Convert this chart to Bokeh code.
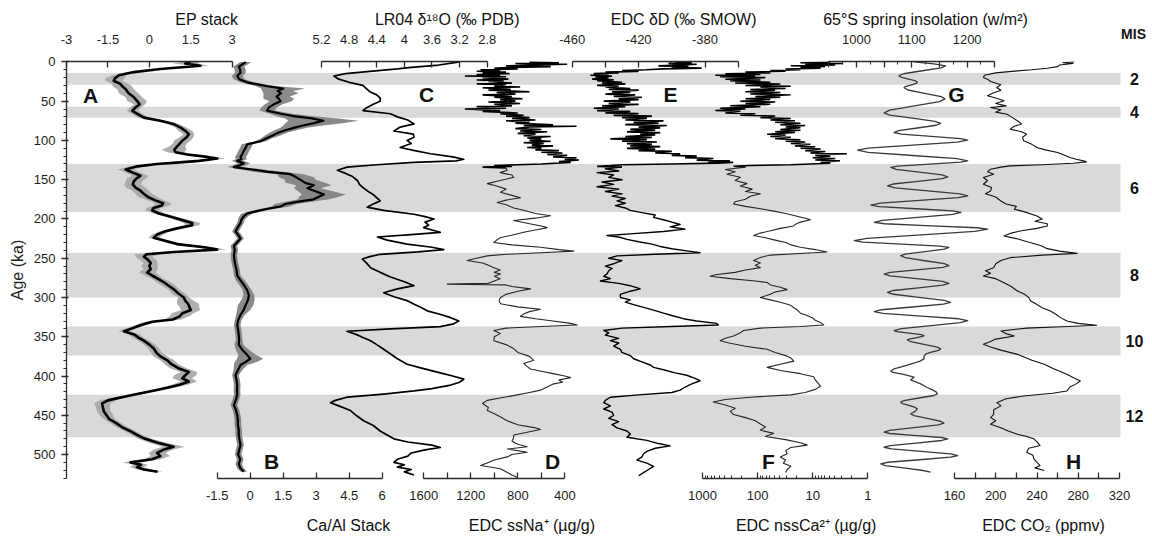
import numpy as np
from bokeh.plotting import figure
from bokeh.models import Range1d, LinearAxis, LogAxis, LogScale, FixedTicker, Label, ColumnDataSource
from bokeh.layouts import column
from bokeh.embed import file_html
from bokeh.resources import INLINE

# ---------------------------------------------------------------- data
mis_top = [14, 57, 130, 243, 337, 424]
mis_bottom = [29, 71, 191, 300, 374, 478]
mis_names = ["2", "4", "6", "8", "10", "12"]

age_ticks = [0, 50, 100, 150, 200, 250, 300, 350, 400, 450, 500]
age_minor = list(range(0, 531, 10))

ep_ticks = [-3, -1.5, 0, 1.5, 3]
ep_labels = ["-3", "-1.5", "0", "1.5", "3"]
caal_ticks = [-1.5, 0, 1.5, 3, 4.5, 6]
caal_labels = ["-1.5", "0", "1.5", "3", "4.5", "6"]
lr04_ticks = [5.2, 4.8, 4.4, 4.0, 3.6, 3.2, 2.8]
lr04_labels = ["5.2", "4.8", "4.4", "4", "3.6", "3.2", "2.8"]
ssna_ticks = [1600, 1400, 1200, 1000, 800, 600, 400]
ssna_labels = ["1600", "", "1200", "", "800", "", "400"]
dd_ticks = [-460, -440, -420, -400, -380, -360]
dd_labels = ["-460", "", "-420", "", "-380", ""]
ins_ticks = [950, 1000, 1050, 1100, 1150, 1200, 1250]
ins_labels = ["", "1000", "", "1100", "", "1200", ""]
ins_minor = list(range(950, 1251, 25))
nssca_ticks = [1000, 100, 10, 1]
nssca_labels = ["1000", "100", "10", "1"]
nssca_minor = [2, 3, 4, 5, 6, 7, 8, 9, 20, 30, 40, 50, 60, 70, 80, 90, 200, 300, 400, 500, 600, 700, 800, 900]
co2_ticks = [160, 180, 200, 220, 240, 260, 280, 300, 320]
co2_labels = ["160", "", "200", "", "240", "", "280", "", "320"]

top_titles = ["EP stack", "LR04 δ¹⁸O (‰ PDB)", "EDC δD (‰ SMOW)", "65°S spring insolation (w/m²)"]
bottom_titles = ["Ca/Al Stack", "EDC ssNa⁺ (µg/g)", "EDC nssCa²⁺ (µg/g)", "EDC CO₂ (ppmv)"]

# A: EP stack
ep_age = [0, 2, 5, 9, 13, 17, 21, 24, 28, 31, 35, 40, 45, 50, 54, 58, 62, 66, 71, 75,
          79, 84, 88, 92, 96, 100, 104, 108, 112, 115, 118, 121, 123, 126, 128, 130, 133, 137, 141, 145,
          148, 152, 156, 160, 164, 168, 172, 176, 180, 183, 186, 189, 193, 197, 201, 205, 208, 212, 216, 220,
          224, 228, 232, 236, 239, 242, 245, 248, 252, 256, 260, 264, 268, 272, 276, 280, 285, 290, 295, 300,
          304, 308, 312, 316, 320, 324, 328, 331, 335, 339, 343, 347, 351, 355, 360, 365, 370, 375, 380, 385,
          390, 395, 399, 403, 407, 411, 415, 419, 423, 427, 431, 435, 440, 445, 450, 455, 460, 465, 470, 475,
          480, 485, 490, 494, 498, 502, 506, 510, 513, 516, 519, 522]
ep_val = [1.5, 1.3, 1.85, 0.4, -0.56, -1.1, -1.25, -1.29, -1.05, -0.98,
          -0.85, -0.75, -0.56, -0.44, -0.35, -0.5, -0.62, -0.45, -0.2, 0.4,
          0.87, 1.15, 1.31, 1.43, 1.35, 1.2, 1.1, 1.0, 0.9, 0.95,
          1.37, 2.1, 2.46, 1.8, 1.1, 0.28, -0.44, -0.86, -0.6, -0.32,
          -0.45, -0.56, -0.6, -0.5, -0.32, -0.2, -0.05, 0.2, 0.5, 0.45,
          0.15, 0.1, 0.35, 0.75, 1.15, 1.55, 1.55, 1.0, 0.55, 0.28,
          0.16, 0.6, 1.0, 2.0, 2.46, 0.9, -0.1, -0.2, -0.05, 0.05,
          0.0, 0.05, -0.08, 0.1, 0.3, 0.5, 0.7, 0.9, 1.05, 1.25,
          1.3, 1.4, 1.45, 1.5, 1.2, 1.1, 0.85, 0.1, -0.3, -0.6,
          -0.92, -0.55, -0.4, -0.2, 0.0, 0.16, 0.25, 0.4, 0.65, 0.8,
          1.05, 1.43, 1.3, 1.19, 1.43, 1.1, 0.65, 0.1, -0.44, -1.0,
          -1.5, -1.71, -1.68, -1.65, -1.55, -1.45, -1.2, -1.0, -0.7, -0.45,
          -0.15, 0.3, 0.88, 0.5, 0.28, 0.4, 0.1, -0.68, -0.3, -0.45,
          -0.2, 0.3]
ep_err = [0.35, 0.45, 0.3, 0.25, 0.2, 0.25, 0.35, 0.3, 0.3, 0.35,
          0.3, 0.35, 0.3, 0.35, 0.2, 0.2, 0.2, 0.2, 0.2, 0.2,
          0.2, 0.2, 0.25, 0.2, 0.25, 0.3, 0.25, 0.3, 0.45, 0.3,
          0.25, 0.3, 0.3, 0.3, 0.25, 0.2, 0.25, 0.3, 0.25, 0.3,
          0.35, 0.3, 0.3, 0.35, 0.3, 0.3, 0.35, 0.3, 0.3, 0.3,
          0.25, 0.25, 0.2, 0.2, 0.25, 0.3, 0.25, 0.2, 0.2, 0.2,
          0.2, 0.2, 0.25, 0.3, 0.35, 0.3, 0.45, 0.3, 0.3, 0.25,
          0.3, 0.25, 0.3, 0.25, 0.2, 0.25, 0.25, 0.2, 0.25, 0.2,
          0.3, 0.4, 0.35, 0.35, 0.4, 0.35, 0.3, 0.25, 0.2, 0.2,
          0.2, 0.2, 0.2, 0.2, 0.2, 0.2, 0.2, 0.25, 0.25, 0.25,
          0.3, 0.3, 0.4, 0.35, 0.3, 0.3, 0.25, 0.2, 0.2, 0.25,
          0.3, 0.3, 0.25, 0.25, 0.25, 0.2, 0.2, 0.2, 0.2, 0.2,
          0.25, 0.3, 0.4, 0.35, 0.3, 0.35, 0.3, 0.3, 0.25, 0.25,
          0.25, 0.2]

# B: Ca/Al stack
caal_age = [0, 3, 6, 10, 14, 18, 22, 26, 29, 31, 34, 37, 40, 44, 47, 50, 54, 58, 62, 66,
            69, 72, 75, 78, 81, 84, 87, 90, 94, 97, 101, 105, 109, 113, 117, 121, 124, 126, 129, 132,
            134, 137, 140, 143, 147, 150, 154, 157, 161, 165, 169, 172, 175, 178, 181, 184, 187, 190, 193, 197,
            201, 205, 210, 216, 220, 225, 230, 234, 240, 246, 252, 259, 265, 272, 278, 284, 290, 297, 303, 310,
            316, 322, 329, 335, 341, 348, 354, 360, 367, 373, 378, 382, 386, 392, 399, 405, 411, 418, 424, 430,
            437, 443, 450, 456, 462, 469, 475, 482, 488, 494, 500, 506, 512, 517, 522]
caal_val = [-0.2, -0.35, -0.52, -0.45, -0.45, -0.59, -0.5, -0.14, 0.4, 0.77,
            1.5, 1.25, 1.4, 1.2, 1.3, 1.38, 1.07, 0.85, 0.77, 1.4,
            1.98, 2.8, 3.33, 2.9, 2.4, 1.98, 1.6, 1.3, 1.0, 0.77,
            0.47, -0.14, -0.2, -0.29, -0.35, -0.44, -0.4, -0.59, -0.29, -0.5,
            -0.74, 0.1, 0.8, 1.83, 2.1, 2.28, 2.5, 2.89, 2.6, 3.0,
            3.35, 3.1, 2.89, 2.2, 1.6, 1.4, 0.8, 0.3, -0.14, -0.3,
            -0.4, -0.44, -0.55, -0.67, -0.55, -0.44, -0.6, -0.74, -0.7, -0.74,
            -0.72, -0.67, -0.62, -0.59, -0.45, -0.29, -0.15, -0.06, -0.1, -0.21,
            -0.3, -0.44, -0.55, -0.59, -0.55, -0.52, -0.5, -0.52, -0.35, -0.14,
            0.0, -0.2, -0.44, -0.55, -0.67, -0.62, -0.59, -0.6, -0.59, -0.65,
            -0.74, -0.65, -0.59, -0.56, -0.56, -0.52, -0.52, -0.48, -0.44, -0.5,
            -0.55, -0.45, -0.52, -0.45, -0.29]
caal_err = [0.25, 0.25, 0.25, 0.25, 0.25, 0.25, 0.25, 0.3, 0.4, 0.5,
            1.0, 0.7, 0.8, 0.6, 0.7, 0.5, 0.4, 0.35, 0.35, 0.5,
            0.8, 1.2, 1.6, 1.3, 0.9, 0.6, 0.5, 0.4, 0.35, 0.25,
            0.25, 0.25, 0.25, 0.25, 0.25, 0.25, 0.25, 0.25, 0.3, 0.3,
            0.3, 0.5, 0.7, 0.6, 0.8, 0.7, 0.9, 0.8, 0.6, 0.8,
            1.0, 0.9, 0.7, 0.6, 0.5, 0.4, 0.3, 0.3, 0.25, 0.2,
            0.15, 0.15, 0.15, 0.15, 0.15, 0.15, 0.15, 0.15, 0.15, 0.15,
            0.15, 0.15, 0.15, 0.15, 0.2, 0.2, 0.2, 0.25, 0.3, 0.35,
            0.3, 0.2, 0.15, 0.15, 0.15, 0.15, 0.15, 0.2, 0.3, 0.4,
            0.6, 0.5, 0.3, 0.2, 0.15, 0.15, 0.15, 0.15, 0.15, 0.15,
            0.15, 0.15, 0.15, 0.15, 0.15, 0.15, 0.15, 0.15, 0.15, 0.15,
            0.15, 0.15, 0.15, 0.15, 0.15]

# C: LR04 benthic d18O
lr04_age = [0, 4, 7, 9, 12, 15, 18, 22, 26, 30, 34, 38, 42, 46, 50, 54, 58, 62, 66, 70,
            74, 79, 83, 88, 92, 96, 100, 104, 109, 113, 117, 121, 124, 126, 128, 131, 134, 138, 142, 146,
            151, 156, 160, 164, 169, 173, 177, 181, 185, 189, 194, 197, 200, 204, 208, 211, 214, 217, 220, 223,
            227, 232, 236, 239, 242, 245, 248, 251, 256, 262, 268, 274, 280, 285, 289, 294, 299, 304, 309, 313,
            317, 321, 325, 330, 334, 337, 340, 343, 347, 351, 355, 360, 366, 372, 378, 385, 390, 396, 400, 404,
            408, 412, 416, 419, 423, 427, 431, 434, 438, 444, 450, 457, 463, 470, 475, 480, 484, 488, 491, 494,
            498, 502, 506, 510, 513, 516, 519, 522, 526]
lr04_val = [3.2, 3.5, 3.9, 4.1, 4.5, 4.85, 5.02, 4.95, 4.8, 4.6, 4.55, 4.5, 4.4, 4.35, 4.35, 4.45, 4.54, 4.6, 4.2, 4.1,
            3.95, 3.86, 4.06, 4.15, 3.87, 3.86, 3.96, 3.9, 4.06, 3.85, 3.62, 3.3, 3.14, 3.25, 3.86, 4.4, 4.83, 4.97, 4.85, 4.75,
            4.68, 4.65, 4.6, 4.54, 4.45, 4.4, 4.35, 4.45, 4.54, 4.3, 3.86, 3.7, 3.57, 3.7, 3.65, 3.72, 3.6, 3.48, 3.9, 4.39,
            4.25, 3.96, 3.6, 3.43, 3.8, 4.35, 4.5, 4.61, 4.55, 4.49, 4.35, 4.2, 4.0, 3.86, 4.1, 4.3, 4.15, 3.96, 3.85, 3.75,
            3.67, 3.5, 3.35, 3.21, 3.3, 3.48, 4.2, 4.83, 4.7, 4.6, 4.49, 4.4, 4.3, 4.2, 4.1, 3.96, 3.75, 3.48, 3.3, 3.14,
            3.2, 3.35, 3.6, 3.86, 4.3, 4.83, 5.0, 5.07, 4.95, 4.78, 4.7, 4.59, 4.45, 4.35, 4.25, 4.15, 3.95, 3.6, 3.48, 3.7,
            3.9, 3.95, 4.1, 4.15, 4.0, 4.1, 3.9, 4.0, 3.86]

# D: EDC ssNa+ (high-resolution upper part, then lower part)
ssna_hi_age = [0, 1, 2, 3, 4, 5, 6, 7, 8, 9, 10, 11, 12, 13, 14, 15, 16, 17, 18, 19, 20,
               22, 23, 24, 25, 27, 28, 29, 31, 32, 33, 35, 36, 38, 39, 41, 42, 44, 45, 47,
               48, 50, 51, 53, 54, 56, 57, 59, 60, 62, 63, 65, 66, 68, 69, 71, 72, 74, 75, 77,
               78, 80, 81, 82, 83, 85, 86, 88, 89, 91, 92, 94, 95, 97, 98, 100, 101, 103, 104, 106,
               107, 109, 110, 112, 113, 115, 116, 118, 119, 121, 122, 124, 125, 127, 128, 130, 131, 132, 133, 134, 135]
ssna_hi = [700, 450, 820, 380, 650, 900, 520, 860, 1000, 800, 1117, 950, 1150, 900, 1100, 870, 1150, 950, 1250, 900, 1100,
           880, 1150, 920, 1050, 850, 1150, 900, 1000, 780, 1100, 860, 1050, 700, 980, 820, 1100, 850, 1000, 760,
           950, 820, 1050, 780, 1000, 850, 1150, 900, 1250, 950, 1100, 800, 950, 750, 900, 700, 850, 650, 900, 700,
           820, 500, 750, 300, 700, 820, 600, 780, 550, 800, 650, 750, 520, 720, 600, 700, 520, 750, 580, 680,
           500, 720, 600, 650, 450, 600, 420, 550, 380, 500, 300, 400, 280, 450, 350, 600, 800, 1000, 850, 1100, 900]
ssna_age = [135, 138, 141, 144, 147, 151, 155, 158, 162, 166, 170, 173, 176, 179, 182, 186, 189, 193, 196, 199,
            202, 206, 209, 211, 214, 217, 220, 224, 227, 230, 233, 236, 239, 241, 243, 245, 247, 250, 253, 256,
            259, 262, 265, 268, 270, 273, 276, 279, 282, 283, 284, 286, 289, 292, 296, 300, 304, 308, 312, 315,
            318, 321, 324, 327, 330, 333, 335, 337, 339, 342, 346, 350, 355, 360, 365, 370, 375, 380, 384, 388,
            391, 394, 397, 400, 402, 405, 408, 410, 414, 418, 421, 425, 428, 431, 435, 440, 444, 448, 452, 457,
            462, 466, 468, 471, 475, 479, 483, 487, 490, 493, 497, 500, 503, 507, 510, 514, 518, 522, 526, 529]
ssna_val = [900, 890, 950, 850, 834, 950, 1060, 980, 900, 947, 850, 777, 900, 975, 900, 834, 750, 650, 522, 650,
            836, 700, 600, 550, 650, 750, 834, 950, 980, 1004, 850, 607, 450, 323, 600, 900, 1060, 1150, 1231, 1100,
            1050, 1004, 950, 1000, 947, 1000, 950, 1000, 1050, 1401, 900, 850, 692, 800, 900, 947, 960, 947, 800, 607,
            700, 750, 777, 650, 500, 350, 294, 600, 900, 1004, 950, 1000, 1004, 900, 836, 800, 700, 664, 750, 720,
            692, 600, 500, 400, 351, 450, 420, 494, 550, 607, 700, 836, 950, 1060, 1100, 1050, 1060, 1000, 950, 890,
            800, 650, 607, 700, 834, 836, 850, 800, 720, 890, 720, 850, 890, 1000, 1050, 1117, 947, 900, 850, 805]

# E: EDC deltaD
dd_hi_age = [0, 1, 2, 3, 4, 5, 6, 7, 8, 9, 10, 11, 12, 13, 14, 15, 16, 17, 18, 19, 20,
             22, 23, 24, 26, 27, 28, 30, 31, 32, 34, 35, 36, 38, 39, 41, 42, 44, 45, 47,
             48, 50, 51, 53, 54, 56, 57, 59, 60, 62, 63, 65, 66, 68, 69, 71, 72, 74, 75, 77,
             78, 80, 81, 83, 84, 86, 87, 89, 90, 92, 93, 95, 96, 98, 99, 101, 102, 104, 105, 107,
             108, 110, 111, 113, 114, 116, 117, 119, 120, 122, 123, 125, 126, 127, 128, 129, 130, 131, 132, 133, 134]
dd_hi = [-398, -388, -402, -385, -395, -408, -390, -400, -382, -405, -415, -430, -420, -440, -432, -447, -438, -449, -436, -446, -438,
         -448, -435, -445, -430, -442, -428, -445, -432, -440, -425, -438, -420, -436, -425, -440, -422, -435, -418, -432,
         -420, -441, -425, -438, -420, -442, -428, -447, -432, -445, -425, -440, -420, -435, -412, -430, -415, -428, -405, -423,
         -408, -428, -403, -420, -407, -425, -410, -427, -407, -419, -410, -428, -412, -437, -415, -430, -409, -427, -412, -425,
         -407, -427, -410, -420, -400, -410, -395, -400, -385, -392, -375, -385, -365, -378, -363, -372, -400, -430, -437, -445, -430]
dd_age = [134, 136, 139, 141, 144, 147, 150, 153, 156, 159, 162, 165, 168, 171, 174, 177, 180, 183, 186, 189,
          192, 195, 198, 201, 204, 207, 210, 213, 216, 219, 221, 223, 226, 229, 232, 235, 238, 241, 243, 245,
          247, 250, 253, 257, 260, 263, 266, 270, 273, 276, 279, 282, 285, 289, 292, 296, 300, 303, 306, 309,
          312, 316, 320, 323, 327, 330, 333, 335, 337, 339, 342, 345, 348, 352, 355, 358, 362, 366, 370, 374,
          378, 382, 386, 389, 392, 396, 399, 403, 406, 410, 414, 418, 421, 424, 427, 431, 434, 438, 442, 446,
          450, 454, 458, 462, 466, 470, 474, 478, 482, 486, 489, 492, 496, 499, 503, 507, 511, 515, 519, 523, 527]
dd_val = [-430, -440, -432, -445, -435, -438, -430, -442, -435, -445, -432, -440, -430, -436, -428, -433, -428, -434, -428, -425,
          -418, -410, -411, -405, -400, -395, -401, -392, -405, -425, -439, -432, -427, -420, -412, -407, -400, -390, -383, -410,
          -433, -438, -430, -435, -440, -436, -438, -439, -441, -437, -443, -432, -425, -419, -425, -431, -431, -425, -428, -423,
          -418, -411, -405, -400, -393, -385, -373, -372, -400, -430, -441, -438, -440, -432, -437, -432, -435, -431, -430, -425,
          -423, -418, -413, -411, -405, -398, -391, -386, -383, -388, -392, -395, -400, -420, -437, -440, -441, -437, -441, -436,
          -435, -438, -432, -436, -433, -427, -425, -427, -415, -408, -401, -410, -415, -417, -418, -421, -415, -411, -414, -417, -420]

# F: EDC nssCa2+
nssca_hi_age = [0, 1, 2, 3, 4, 5, 6, 7, 8, 9, 10, 11, 12, 13, 14, 15, 16, 17, 18, 19, 20,
                22, 23, 24, 26, 27, 28, 30, 31, 32, 34, 35, 36, 38, 39, 41, 42, 44, 45, 47,
                48, 50, 51, 53, 54, 56, 57, 59, 60, 62, 63, 65, 66, 68, 69, 71, 72, 74, 75, 77,
                78, 80, 81, 83, 84, 86, 87, 89, 90, 92, 93, 95, 96, 98, 99, 101, 102, 104, 105, 107,
                108, 110, 111, 113, 114, 116, 117, 119, 120, 122, 123, 125, 126, 128, 129, 131, 132, 133, 134]
nssca_hi = [4.8, 16.7, 2.8, 13.7, 3.9, 25, 5.9, 16.7, 7.2, 31, 16.7, 58.7, 31, 166, 58.7, 385, 89, 585, 110, 477, 72,
            385, 89, 314, 58.7, 255, 38.7, 166, 25, 89, 31, 136, 48, 166, 38.7, 136, 25, 110, 38.7, 166,
            58.7, 206, 48, 166, 58.7, 314, 89, 477, 166, 585, 206, 385, 110, 206, 48, 89, 25, 58.7, 21, 48,
            16.7, 38.7, 13.7, 31, 16.7, 38.7, 16.7, 48, 21, 67, 31, 58.7, 25, 48, 16.7, 31, 13.7, 25, 11, 21,
            9, 16.7, 7.2, 13.7, 5.9, 11, 2.4, 9, 4.8, 10, 3.9, 9, 3.2, 7.2, 4.8, 25, 136, 273, 166]
nssca_age = [134, 137, 140, 143, 147, 151, 155, 158, 162, 165, 168, 171, 175, 178, 181, 184, 187, 190, 193, 196,
             199, 201, 204, 207, 209, 212, 215, 218, 221, 224, 227, 230, 233, 236, 239, 242, 244, 246, 249, 253,
             256, 259, 262, 265, 268, 271, 273, 276, 279, 281, 284, 287, 290, 293, 296, 300, 303, 306, 310, 313,
             316, 320, 323, 326, 329, 332, 335, 337, 339, 342, 345, 349, 352, 355, 358, 362, 366, 370, 374, 377,
             381, 385, 389, 393, 397, 401, 405, 409, 413, 417, 421, 424, 427, 430, 433, 437, 441, 445, 449, 453,
             457, 461, 465, 469, 473, 477, 481, 485, 488, 491, 495, 499, 503, 507, 511, 515, 519, 523]
nssca_val = [166, 385, 255, 360, 206, 255, 156, 206, 125, 166, 89, 136, 166, 255, 273, 166, 89, 51, 31, 21,
             13.7, 11, 16.7, 21, 22, 38.7, 58.7, 89, 118, 72, 48, 31, 25, 16.7, 9, 5.5, 16.7, 58.7, 89, 118,
             89, 110, 89, 166, 255, 585, 725, 314, 110, 67, 58.7, 38.7, 29, 48, 58.7, 89, 58.7, 38.7, 25, 22,
             19, 16.7, 12.6, 10, 9, 7.2, 6.3, 16.7, 89, 180, 206, 273, 385, 477, 330, 166, 67, 48, 31, 25,
             22, 38.7, 67, 38.7, 16.7, 9.6, 9, 8, 7.2, 9, 13.7, 25, 136, 385, 638, 385, 255, 314, 273, 166,
             110, 89, 72, 89, 51, 72, 31, 16.7, 12.6, 25, 31, 29, 38.7, 31, 34, 25, 29, 31]

# G: 65S spring insolation
ins_age = [0, 2.5, 5, 7.5, 11.3, 15.1, 17.6, 19.3, 21.8, 24.3, 26, 27.4, 29.5, 31.6, 33,
           35.8, 40, 44.2, 47, 50.6, 56, 61.4, 65, 67.7, 71.7, 75.7, 78.4, 80.7, 84.2, 87.6, 89.9,
           91.9, 94.8, 97.7, 99.7, 102.2, 106.1, 109.9, 112.4, 115.1, 119.2, 123.3, 126,
           127.7, 130.2, 132.7, 134.4, 136.8, 140.4, 143.9, 146.3, 148.6, 152.1, 155.5, 157.8,
           160.3, 164.2, 168, 170.5, 172.9, 176.4, 179.9, 182.3, 184.2, 187, 189.8, 191.7,
           194.2, 198.1, 201.9, 204.4, 206.1, 208.7, 211.2, 212.9, 215.9, 220.3, 224.7, 227.7,
           229.4, 232, 234.5, 236.2, 238.3, 241.5, 244.7, 246.8, 249.3, 253.2, 257, 259.5,
           261.6, 264.8, 268, 270.1, 272.5, 276, 279.5, 281.9, 284.2, 287.7, 291.1, 293.4,
           295.9, 299.8, 303.6, 306.1, 308.5, 312.1, 315.6, 318, 320.3, 323.7, 327.1, 329.4,
           332, 335.8, 339.6, 342.2, 343.5, 345.4, 347.2, 348.5, 349.6, 351.3, 352.9, 354,
           356.3, 359.8, 363.2, 365.5, 367.5, 370, 372, 375, 378.2, 381.3, 386, 390.8, 393.9,
           395.5, 398, 401.5, 405, 410, 414, 418, 420.2, 422.7, 424.8, 428, 431.2, 433.3,
           435, 437.5, 440, 441.8, 445, 448.1, 450.5, 454, 457.6, 460, 462.3, 465.8, 469.2, 471.5,
           473.2, 475.8, 478.3, 480, 482.1, 485.4, 488.6, 490.7, 492.8, 496, 499.2, 501.3,
           503.4, 506.6, 509.8, 511.9, 514, 517, 520, 522.5]
ins_val = [1104, 1140, 1161, 1153, 1119, 1085, 1077, 1080, 1094, 1107, 1110, 1108, 1098, 1088, 1086,
           1093, 1123, 1153, 1160, 1150, 1105, 1060, 1050, 1060, 1101, 1142, 1152, 1144, 1110, 1076, 1068,
           1081, 1135, 1188, 1201, 1182, 1102, 1021, 1002, 1021, 1102, 1182, 1201,
           1188, 1132, 1075, 1062, 1072, 1114, 1155, 1165, 1155, 1111, 1066, 1056,
           1070, 1129, 1187, 1201, 1184, 1114, 1043, 1026, 1041, 1108, 1174, 1189,
           1174, 1111, 1047, 1032, 1051, 1135, 1218, 1237, 1214, 1117, 1019, 996,
           1012, 1082, 1151, 1167, 1159, 1124, 1088, 1080, 1088, 1124, 1159, 1167,
           1156, 1109, 1061, 1050, 1061, 1109, 1156, 1167, 1156, 1112, 1067, 1056,
           1067, 1113, 1159, 1170, 1157, 1101, 1045, 1032, 1048, 1117, 1185, 1201,
           1188, 1135, 1081, 1068, 1073, 1095, 1117, 1122, 1119, 1107, 1095, 1092,
           1098, 1122, 1146, 1152, 1148, 1134, 1125, 1122, 1122, 1114, 1092, 1068, 1062,
           1066, 1085, 1104, 1098, 1116, 1126, 1138, 1144, 1146, 1140, 1113, 1086, 1080,
           1083, 1095, 1106, 1110, 1106, 1098, 1104, 1128, 1152, 1158, 1148, 1104, 1060, 1050,
           1061, 1108, 1154, 1165, 1154, 1108, 1061, 1050, 1063, 1117, 1170, 1183,
           1170, 1114, 1057, 1044, 1052, 1085, 1118, 1134]

# H: EDC CO2
co2_age = [0, 1, 2, 4, 6, 8, 10, 11.4, 14, 17, 20, 22, 25, 29, 32.6, 36, 40, 43, 46, 49.6,
           53, 56, 58, 61, 64, 66.6, 70, 75, 79, 82, 85.6, 89, 92, 96, 100.5, 105, 109, 112, 115.4, 118,
           121.7, 124, 126, 127.3, 129, 131, 132.4, 134, 136.6, 140, 143, 147.3, 151, 155.8, 160, 164.3, 168, 172, 177.1, 181,
           184, 187.6, 191, 196.2, 200, 203, 206, 208.9, 212, 215, 218, 221.6, 225, 228, 230.2, 234, 237.8, 241, 243.8, 246,
           249.3, 253, 257, 262, 266, 269, 272.6, 276, 281.1, 286, 291.7, 296, 300, 304.4, 309, 313, 317.2, 321, 325, 329.9,
           333, 335.4, 337, 339, 342.6, 346, 349, 353, 356, 359.6, 363, 367, 372.4, 376, 380, 385.1, 390, 394, 397.8, 402,
           406.3, 410, 414, 419, 422, 425.4, 429, 433.9, 438, 443, 448.8, 453, 457, 461.5, 466, 470, 474.2, 477, 480, 484,
           488.5, 492, 497, 501, 505.5, 510, 514, 517, 520.3]
co2_val = [276, 265, 275, 262, 260, 250, 235, 221, 200, 189, 188, 192, 195, 205, 201, 205, 197, 192, 200, 208,
           200, 210, 195, 205, 200, 211, 215, 221, 225, 218, 214, 225, 230, 226, 227, 235, 240, 248, 260, 265,
           272, 278, 285, 288, 275, 245, 214, 205, 195, 192, 198, 188, 192, 188, 196, 195, 190, 200, 205, 210,
           220, 218, 228, 240, 245, 238, 250, 250, 240, 225, 215, 208, 220, 228, 234, 244, 250, 262, 279, 245,
           214, 205, 200, 198, 190, 195, 188, 200, 208, 215, 221, 228, 232, 234, 240, 245, 253, 258, 262, 269,
           280, 298, 270, 230, 205, 210, 218, 200, 195, 188, 195, 205, 221, 228, 235, 247, 255, 262, 269, 275,
           282, 278, 272, 269, 255, 227, 210, 201, 205, 198, 198, 195, 200, 195, 205, 212, 221, 230, 237, 240,
           243, 232, 230, 236, 237, 240, 243, 238, 247]

# ---------------------------------------------------------------- layout / style
CW, CH = 1150, 538            # canvas of each (overlaid) panel
ML, MT, MB = 66, 61, 60       # frame offsets inside canvas
FW, FH = CW - ML, CH - MT - MB
AGE_TOP, AGE_BOT = -0.5, 530.5
BAND_RIGHT = 1054
TOP_TITLE_Y, BOTTOM_TITLE_Y = 19, 525
FONT = "Liberation Sans"
TXT = "#1e1e1e"
AXC = "#2b2b2b"

# axis anchors: (value, frame-x px, value, frame-x px) at the two ends of each axis
AXPOS = {
    "ep": (-3, 0.0, 3, 165.7),
    "caal": (-1.5, 150.7, 6, 315.7),
    "lr04": (5.2, 255.0, 2.8, 420.7),
    "ssna": (1600, 357.3, 400, 498.3),
    "dd": (-460, 505.7, -360, 671.7),
    "ins": (950, 762.3, 1250, 928.3),
    "nssca": (1000, 636.0, 1, 801.3),
    "co2": (160, 888.0, 320, 1053.0),
}
TOP_KEYS = ["ep", "lr04", "dd", "ins"]
BOTTOM_KEYS = ["caal", "ssna", "nssca", "co2"]


def lin_range(key):
    v0, p0, v1, p1 = AXPOS[key]
    k = (v1 - v0) / (p1 - p0)
    return Range1d(start=v0 - p0 * k, end=v0 + (FW - p0) * k)


def log_range(key):
    v0, p0, v1, p1 = AXPOS[key]
    l0, l1 = np.log10(v0), np.log10(v1)
    k = (l1 - l0) / (p1 - p0)
    return Range1d(start=10 ** (l0 - p0 * k), end=10 ** (l0 + (FW - p0) * k))


def src(age, val, err=None):
    n = min(len(age), len(val)) if err is None else min(len(age), len(val), len(err))
    d = dict(age=list(age[:n]), v=list(val[:n]))
    if err is not None:
        d["lo"] = [a - b for a, b in zip(val[:n], err[:n])]
        d["hi"] = [a + b for a, b in zip(val[:n], err[:n])]
    return ColumnDataSource(d)


def make_fig(ranges=None, scales=None, full=False):
    kw = dict(width=CW, height=CH, min_border=0, toolbar_location=None, output_backend="svg",
              x_axis_location=None, y_axis_location=None,
              background_fill_alpha=0, border_fill_alpha=0, outline_line_color=None)
    if full:
        p = figure(x_range=Range1d(0, CW), y_range=Range1d(CH, 0), **kw)
    else:
        p = figure(min_border_left=ML, min_border_right=0, min_border_top=MT, min_border_bottom=MB,
                   x_range=Range1d(0, FW), y_range=Range1d(AGE_BOT, AGE_TOP), **kw)
    if ranges:
        p.extra_x_ranges = ranges
    if scales:
        p.extra_x_scales = scales
    p.grid.visible = False
    return p


def add_axis(p, side, name, ticks, labels, minor=None, log=False):
    cls = LogAxis if log else LinearAxis
    ax = cls(x_range_name=name, ticker=FixedTicker(ticks=ticks, minor_ticks=minor or []),
             bounds=(min(ticks), max(ticks)))
    ax.major_label_overrides = {t: l for t, l in zip(ticks, labels)}
    ax.major_label_text_font = FONT
    ax.major_label_text_font_size = "13px"
    ax.major_label_text_color = TXT
    ax.axis_line_color = AXC
    ax.axis_line_width = 1.3
    ax.major_tick_line_color = AXC
    ax.major_tick_line_width = 1.3
    ax.minor_tick_line_color = AXC
    ax.minor_tick_line_width = 1.0
    ax.major_tick_in = 6
    ax.major_tick_out = 0
    ax.minor_tick_in = 3
    ax.minor_tick_out = 0
    ax.major_label_standoff = 18 if side == "above" else 12
    p.add_layout(ax, side)
    return ax


def text_label(p, x, y, t, size, bold=False, font=FONT):
    p.add_layout(Label(x=x, y=y, text=t, text_font=font, text_font_size=size,
                       text_font_style="bold" if bold else "normal", text_color="#111111",
                       text_align="center", text_baseline="middle"))


# ---------------- panel 1: bands, EP stack (A), Ca/Al (B), age axis, MIS
p1 = make_fig({"ep": lin_range("ep"), "caal": lin_range("caal")})
p1.quad(left=0, right=BAND_RIGHT, top=mis_top, bottom=mis_bottom,
        fill_color="#d9d9d9", line_color=None)

s_ep = src(ep_age, ep_val, ep_err)
p1.harea(y="age", x1="lo", x2="hi", source=s_ep, x_range_name="ep",
         fill_color="#a6a6a6", fill_alpha=0.9)
p1.line(x="v", y="age", source=s_ep, x_range_name="ep", line_color="#000000",
        line_width=2.6, line_join="round")

s_ca = src(caal_age, caal_val, caal_err)
p1.harea(y="age", x1="lo", x2="hi", source=s_ca, x_range_name="caal",
         fill_color="#7d7d7d", fill_alpha=0.9)
p1.line(x="v", y="age", source=s_ca, x_range_name="caal", line_color="#000000",
        line_width=2.2, line_join="round")

yax = LinearAxis(bounds=(0, 530), ticker=FixedTicker(ticks=age_ticks, minor_ticks=age_minor))
yax.axis_label = "Age (ka)"
yax.axis_label_text_font = FONT
yax.axis_label_text_font_size = "16px"
yax.axis_label_text_font_style = "normal"
yax.axis_label_text_color = TXT
yax.axis_label_standoff = 5
yax.major_label_text_font = FONT
yax.major_label_text_font_size = "13px"
yax.major_label_text_color = TXT
yax.major_label_standoff = 6
yax.axis_line_color = AXC
yax.axis_line_width = 1.3
yax.major_tick_line_color = AXC
yax.major_tick_line_width = 1.3
yax.minor_tick_line_color = AXC
yax.major_tick_out = 5
yax.major_tick_in = 2
yax.minor_tick_out = 3
yax.minor_tick_in = 0
p1.add_layout(yax, "left")

add_axis(p1, "above", "ep", ep_ticks, ep_labels)
add_axis(p1, "below", "caal", caal_ticks, caal_labels)

for name, t, b in zip(mis_names, mis_top, mis_bottom):
    text_label(p1, 1068, (t + b) / 2, name, "16px", bold=True)

text_label(p1, 24, 43, "A", "21px", bold=True)
text_label(p1, 205, 509, "B", "21px", bold=True)

# ---------------- panel 2: LR04 (C), ssNa (D)
p2 = make_fig({"lr04": lin_range("lr04"), "ssna": lin_range("ssna")})
p2.line(x="v", y="age", source=src(lr04_age, lr04_val), x_range_name="lr04",
        line_color="#000000", line_width=1.7, line_join="round")
p2.line(x="v", y="age", source=src(ssna_hi_age, ssna_hi), x_range_name="ssna",
        line_color="#000000", line_width=1.6)
p2.line(x="v", y="age", source=src(ssna_age, ssna_val), x_range_name="ssna",
        line_color="#262626", line_width=1.1, line_join="round")
add_axis(p2, "above", "lr04", lr04_ticks, lr04_labels)
add_axis(p2, "below", "ssna", ssna_ticks, ssna_labels)
text_label(p2, 360, 41, "C", "21px", bold=True)
text_label(p2, 486, 509, "D", "21px", bold=True)

# ---------------- panel 3: deltaD (E), nssCa (F, log)
p3 = make_fig({"dd": lin_range("dd"), "nssca": log_range("nssca")}, {"nssca": LogScale()})
p3.line(x="v", y="age", source=src(dd_hi_age, dd_hi), x_range_name="dd",
        line_color="#000000", line_width=1.7)
p3.line(x="v", y="age", source=src(dd_age, dd_val), x_range_name="dd",
        line_color="#000000", line_width=1.4, line_join="round")
p3.line(x="v", y="age", source=src(nssca_hi_age, nssca_hi), x_range_name="nssca",
        line_color="#000000", line_width=1.5)
p3.line(x="v", y="age", source=src(nssca_age, nssca_val), x_range_name="nssca",
        line_color="#262626", line_width=1.1, line_join="round")
add_axis(p3, "above", "dd", dd_ticks, dd_labels)
add_axis(p3, "below", "nssca", nssca_ticks, nssca_labels, minor=nssca_minor, log=True)
text_label(p3, 604, 41, "E", "21px", bold=True)
text_label(p3, 702, 509, "F", "21px", bold=True)

# ---------------- panel 4: insolation (G), CO2 (H)
p4 = make_fig({"ins": lin_range("ins"), "co2": lin_range("co2")})
p4.line(x="v", y="age", source=src(ins_age, ins_val), x_range_name="ins",
        line_color="#3a3a3a", line_width=1.3, line_join="round")
p4.line(x="v", y="age", source=src(co2_age, co2_val), x_range_name="co2",
        line_color="#111111", line_width=1.1, line_join="round")
add_axis(p4, "above", "ins", ins_ticks, ins_labels, minor=ins_minor)
add_axis(p4, "below", "co2", co2_ticks, co2_labels)
text_label(p4, 890, 41, "G", "21px", bold=True)
text_label(p4, 1007, 509, "H", "21px", bold=True)

# ---------------- panel 5: axis titles and MIS header (canvas-pixel frame)
p5 = make_fig(full=True)
for key, t in zip(TOP_KEYS, top_titles):
    text_label(p5, ML + (AXPOS[key][1] + AXPOS[key][3]) / 2, TOP_TITLE_Y, t, "16px")
for key, t in zip(BOTTOM_KEYS, bottom_titles):
    text_label(p5, ML + (AXPOS[key][1] + AXPOS[key][3]) / 2, BOTTOM_TITLE_Y, t, "16px")
text_label(p5, ML + 1066, 33, "MIS", "14px", bold=True)

for p in (p2, p3, p4, p5):
    p.margin = (-CH, 0, 0, 0)

layout = column(p1, p2, p3, p4, p5, spacing=0)
open("out.html", "w").write(file_html(layout, INLINE, title="EPICA records"))
